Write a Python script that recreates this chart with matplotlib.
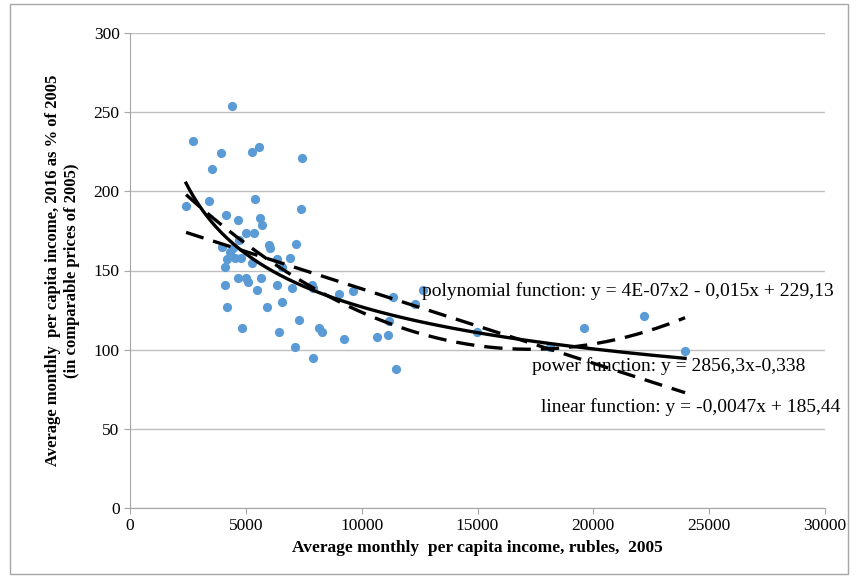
from matplotlib import pyplot as plt
from matplotlib.patches import Rectangle
import numpy as np

# Income 2005 (rubles) and income 2016 as % of 2005
income_2005 = [2420, 2720, 3410, 3540, 3930, 4400, 5270, 5570, 7425, 7380,
               5400, 4140, 4660, 5610, 5700, 5010, 5350, 4705, 3970, 6000,
               6045, 7165, 4190, 4530, 4790, 5270, 4100, 6345, 6910, 6560,
               4660, 5010, 5095, 5655, 6345, 4100, 5480, 6990, 7855, 7900,
               9020, 9625, 4190, 5915, 6560, 7295, 4835, 6430, 8160, 8290,
               7125, 7900, 9240, 10660, 11140, 11180, 11350, 12300, 12650, 11480,
               14980, 18130, 19600, 22190, 23960, 4320, 4450]
income_pct = [191, 232, 194, 214, 224, 254, 225, 228, 221, 189,
              195, 185, 182, 183, 179, 174, 174, 169, 165, 166,
              164, 167, 157, 158, 158, 155, 152, 157, 158, 152,
              145, 145, 143, 145, 141, 141, 138, 139, 141, 139,
              135, 137, 127, 127, 130, 119, 114, 111, 114, 111,
              102, 95, 107, 108, 109, 118, 133, 129, 138, 88,
              111, 102, 114, 121, 99, 162, 164]

# Trendline coefficients as labelled in the chart
lin_coef = [-0.0047, 185.44]
pow_coef = [2856.3, -0.338]

x = np.array(income_2005, dtype=float)
y = np.array(income_pct, dtype=float)
poly_coef = np.polyfit(x, y, 2)

xs = np.linspace(x.min(), x.max(), 300)

plt.rcParams['font.family'] = ['Liberation Serif', 'DejaVu Serif']

fig = plt.figure(figsize=(8.57, 5.78), dpi=100)
ax = fig.add_axes([130 / 857, 1 - 508 / 578, 695 / 857, 475 / 578])

ax.scatter(x, y, s=44, color="#5B9BD5", zorder=2, linewidths=0)
ax.plot(xs, lin_coef[0] * xs + lin_coef[1], color="black", lw=2.4,
        dashes=(5.5, 3), zorder=3)
ax.plot(xs, np.polyval(poly_coef, xs), color="black", lw=2.4,
        dashes=(5.5, 3), zorder=3)
ax.plot(xs, pow_coef[0] * xs ** pow_coef[1], color="black", lw=2.4, zorder=3)

ax.set_xlim(0, 30000)
ax.set_ylim(0, 300)
ax.set_xticks(range(0, 30001, 5000))
ax.set_yticks(range(0, 301, 50))
ax.yaxis.grid(True, color="#BFBFBF", lw=1)
ax.set_axisbelow(True)
for s in ["top", "right"]:
    ax.spines[s].set_visible(False)
for s in ["left", "bottom"]:
    ax.spines[s].set_color("#A6A6A6")
ax.tick_params(axis="both", colors="#A6A6A6", labelcolor="black",
               labelsize=12.5, length=4)

ax.set_xlabel("Average monthly  per capita income, rubles,  2005",
              fontsize=12.5, fontweight="bold", labelpad=4)
ax.set_ylabel("Average monthly  per capita income, 2016 as % of 2005\n"
              "(in comparable prices of 2005)",
              fontsize=12, fontweight="bold", labelpad=10)

ax.text(12600, 137, "polynomial function: y = 4E-07x2 - 0,015x + 229,13",
        fontsize=14, va="center", ha="left")
ax.text(17350, 89.5, "power function: y = 2856,3x-0,338",
        fontsize=14, va="center", ha="left")
ax.text(17750, 63.5, "linear function: y = -0,0047x + 185,44",
        fontsize=14, va="center", ha="left")

fig.patches.append(Rectangle((10 / 857, 4 / 578), 838 / 857, 570 / 578,
                             transform=fig.transFigure, fill=False,
                             edgecolor="#A6A6A6", lw=1))

plt.savefig("out.png", dpi=100)
